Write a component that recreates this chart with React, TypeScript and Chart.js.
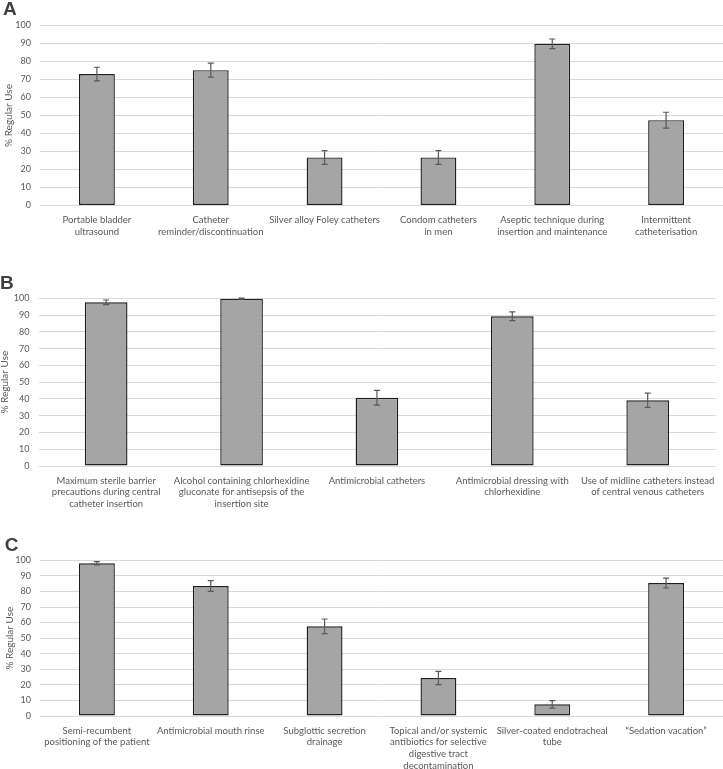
import React, { useEffect, useRef } from "react";
import { Chart, registerables } from "chart.js";
Chart.register(...registerables);

const catsA: (string | string[])[] = [
  ["Portable bladder", "ultrasound"],
  ["Catheter", "reminder/discontinuation"],
  "Silver alloy Foley catheters",
  ["Condom catheters", "in men"],
  ["Aseptic technique during", "insertion and maintenance"],
  ["Intermittent", "catheterisation"],
];
const valuesA = [73.0, 75.2, 26.7, 26.7, 89.8, 47.4];
const errorsA = [3.8, 3.9, 3.8, 3.8, 2.7, 4.4];

const catsB: (string | string[])[] = [
  ["Maximum sterile barrier", "precautions during central", "catheter insertion"],
  ["Alcohol containing chlorhexidine", "gluconate for antisepsis of the", "insertion site"],
  "Antimicrobial catheters",
  ["Antimicrobial dressing with", "chlorhexidine"],
  ["Use of midline catheters instead", "of central venous catheters"],
];
const valuesB = [97.6, 99.8, 40.7, 89.3, 39.2];
const errorsB = [1.4, 0.3, 4.4, 2.6, 4.3];

const catsC: (string | string[])[] = [
  ["Semi-recumbent", "positioning of the patient"],
  "Antimicrobial mouth rinse",
  ["Subglottic secretion", "drainage"],
  ["Topical and/or systemic", "antibiotics for selective", "digestive tract", "decontamination"],
  ["Silver-coated endotracheal", "tube"],
  "\u201CSedation vacation\u201D",
];
const valuesC = [98.1, 83.5, 57.6, 24.4, 7.5, 85.4];
const errorsC = [1.0, 3.4, 4.7, 4.3, 2.4, 3.2];

const yMin = 0;
const yMax = 100;
const yStep = 10;
const yTitle = "% Regular Use";

const TEXT = "#595959";
const FONT = "Lato";

const errorBarPlugin = {
  id: "errorBars",
  afterDatasetsDraw(chart: any, _args: any, opts: any) {
    const errs: number[] = opts.errors;
    if (!errs) return;
    const meta = chart.getDatasetMeta(0);
    const yScale = chart.scales.y;
    const vals = chart.data.datasets[0].data as number[];
    const ctx = chart.ctx;
    const cap = 3;
    ctx.save();
    ctx.strokeStyle = "#595959";
    ctx.lineWidth = 1.2;
    meta.data.forEach((bar: any, i: number) => {
      const v = vals[i];
      const e = errs[i];
      const x = bar.x;
      const yt = yScale.getPixelForValue(v + e);
      const yb = yScale.getPixelForValue(v - e);
      ctx.beginPath();
      ctx.moveTo(x, yt);
      ctx.lineTo(x, yb);
      ctx.moveTo(x - cap, yt);
      ctx.lineTo(x + cap, yt);
      ctx.moveTo(x - cap, yb);
      ctx.lineTo(x + cap, yb);
      ctx.stroke();
    });
    ctx.restore();
  },
};

type PanelProps = {
  top: number;
  height: number;
  labels: (string | string[])[];
  values: number[];
  errors: number[];
  padTop: number;
  padRight: number;
  xAxisH: number;
  yAxisW: number;
  titlePad: number;
  letter: string;
  letterLeft: number;
  letterTop: number;
};

function Panel(p: PanelProps) {
  const ref = useRef<HTMLCanvasElement | null>(null);
  useEffect(() => {
    if (!ref.current) return;
    const chart = new Chart(ref.current, {
      type: "bar",
      data: {
        labels: p.labels as any,
        datasets: [
          {
            data: p.values,
            backgroundColor: "#a5a5a5",
            borderColor: "#1f1f1f",
            borderWidth: 1.4,
            borderSkipped: false,
            categoryPercentage: 1,
            barPercentage: 0.315,
          },
        ],
      },
      options: {
        responsive: false,
        animation: false,
        layout: { padding: { top: p.padTop, left: 0, right: p.padRight, bottom: 0 } },
        plugins: {
          legend: { display: false },
          tooltip: { enabled: false },
          errorBars: { errors: p.errors },
        } as any,
        scales: {
          x: {
            grid: { display: false, drawTicks: false },
            border: { display: false },
            ticks: {
              color: TEXT,
              font: { family: FONT, size: 9.5, lineHeight: 1.25 },
              padding: 8.5,
              maxRotation: 0,
              minRotation: 0,
              autoSkip: false,
            },
            afterFit: (s: any) => {
              s.height = p.xAxisH;
            },
          },
          y: {
            min: yMin,
            max: yMax,
            grid: { color: "#d9d9d9", lineWidth: 1, drawTicks: false },
            border: { display: false },
            ticks: {
              stepSize: yStep,
              color: TEXT,
              font: { family: FONT, size: 9 },
              padding: 9,
            },
            title: {
              display: true,
              text: yTitle,
              color: TEXT,
              font: { family: FONT, size: 10, lineHeight: 1.2 },
              padding: { top: p.titlePad, bottom: 0 },
            },
            afterFit: (s: any) => {
              s.width = p.yAxisW;
            },
          },
        },
      },
      plugins: [errorBarPlugin],
    });
    return () => chart.destroy();
  }, []);
  return (
    <div style={{ position: "absolute", left: 0, top: p.top, width: 723, height: p.height }}>
      <canvas ref={ref} width={723} height={p.height} style={{ width: 723, height: p.height, display: "block" }} />
      <div
        style={{
          position: "absolute",
          left: p.letterLeft,
          top: p.letterTop,
          fontFamily: "Liberation Sans, Arial, sans-serif",
          fontWeight: 700,
          fontSize: 19,
          lineHeight: "19px",
          color: "#3f3f3f",
        }}
      >
        {p.letter}
      </div>
    </div>
  );
}

export default function App() {
  return (
    <div style={{ position: "absolute", left: 0, top: 0, width: 723, height: 769, background: "#fff", overflow: "hidden" }}>
      <Panel top={0} height={245} labels={catsA} values={valuesA} errors={errorsA} padTop={25.5} padRight={0} xAxisH={39.5} yAxisW={40} titlePad={3} letter="A" letterLeft={3} letterTop={-1} />
      <Panel top={245} height={265} labels={catsB} values={valuesB} errors={errorsB} padTop={53.3} padRight={1} xAxisH={44} yAxisW={38.5} titlePad={-1} letter="B" letterLeft={0} letterTop={27.5} />
      <Panel top={510} height={259} labels={catsC} values={valuesC} errors={errorsC} padTop={50.3} padRight={0} xAxisH={53} yAxisW={40} titlePad={3.5} letter="C" letterLeft={4.7} letterTop={24.8} />
    </div>
  );
}
